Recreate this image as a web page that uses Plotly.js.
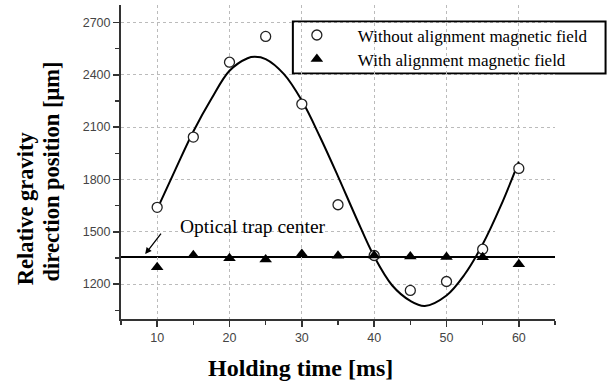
<!DOCTYPE html>
<html>
<head>
<meta charset="utf-8">
<script src="https://cdn.plot.ly/plotly-3.0.1.min.js"></script>
<style>
html,body{margin:0;padding:0;background:#fff;}
#chart{width:611px;height:387px;}
</style>
</head>
<body>
<div id="chart"></div>
<script>
// Holding time [ms]
var holdingTime = [10, 15, 20, 25, 30, 35, 40, 45, 50, 55, 60];
// Without alignment magnetic field (open circles)
var withoutField = [1640, 2043, 2472, 2620, 2232, 1655, 1364, 1164, 1215, 1400, 1863];
// With alignment magnetic field (filled triangles)
var withField = [1296, 1365, 1348, 1341, 1373, 1362, 1364, 1358, 1355, 1354, 1314];
// Fitted curve
var fitTime = [10, 12.5, 15, 17.5, 20, 22.5, 23.5, 25, 27.5, 30, 32.5, 35, 37.5, 40, 42.5, 45, 47, 50, 52.5, 55, 57.5, 60];
var fitValue = [1630, 1855, 2075, 2262, 2423, 2495, 2503, 2490, 2405, 2252, 2045, 1818, 1582, 1358, 1192, 1104, 1075, 1135, 1255, 1428, 1648, 1902];
// Optical trap center level
var trapCenter = 1355;
var xTickLabels = ['10', '20', '30', '40', '50', '60'];
var xTickVals = [10, 20, 30, 40, 50, 60];
var yTickVals = [1200, 1500, 1800, 2100, 2400, 2700];
var yTickLabels = ['1200', '1500', '1800', '2100', '2400', '2700'];
var seriesNames = ['Without alignment magnetic field', 'With alignment magnetic field'];
var yTitleLines = ['Relative gravity', 'direction position [μm]'];
var xTitle = 'Holding time [ms]';
var trapLabel = 'Optical trap center';

var serif = '"Liberation Serif", "Times New Roman", Times, serif';
var sans = '"Liberation Sans", Arial, Helvetica, sans-serif';
var nb = function (n) { return new Array(n + 1).join('\u00A0'); };

var traces = [
  {
    x: fitTime, y: fitValue, mode: 'lines', type: 'scatter',
    line: {color: '#000', width: 2, shape: 'spline', smoothing: 1},
    showlegend: false, hoverinfo: 'skip'
  },
  {
    x: holdingTime, y: withoutField, mode: 'markers', type: 'scatter',
    name: nb(4) + seriesNames[0], legend: 'legend',
    marker: {symbol: 'circle', size: 10, color: '#fff', line: {color: '#222', width: 1.3}}
  },
  {
    x: holdingTime, y: withField, mode: 'markers', type: 'scatter',
    name: nb(4) + seriesNames[1], legend: 'legend2',
    marker: {symbol: 'triangle-up', size: 11, color: '#000', line: {width: 0}}
  }
];

var legendCommon = {
  x: 0.396, xanchor: 'left', yanchor: 'middle',
  bgcolor: 'rgba(0,0,0,0)', borderwidth: 0,
  font: {family: serif, size: 17, color: '#000'},
  itemwidth: 38
};

var layout = {
  width: 611, height: 387,
  margin: {l: 121, r: 56, t: 4.5, b: 68, pad: 0},
  paper_bgcolor: '#fff', plot_bgcolor: '#fff',
  showlegend: true,
  xaxis: {
    range: [5, 65], tickmode: 'array', tickvals: xTickVals, ticktext: xTickLabels,
    ticks: 'outside', ticklen: 6, tickwidth: 1.5, tickcolor: '#333',
    minor: {dtick: 5, tick0: 5, ticks: 'outside', ticklen: 4, tickwidth: 1.5, tickcolor: '#333', showgrid: false},
    showline: true, linecolor: '#333', linewidth: 2, mirror: false,
    showgrid: true, gridcolor: '#bbb', griddash: 'dot', gridwidth: 1,
    zeroline: false,
    tickfont: {family: sans, size: 12.5, color: '#444'}
  },
  yaxis: {
    range: [1000, 2800], tickmode: 'array', tickvals: yTickVals, ticktext: yTickLabels,
    ticks: 'outside', ticklen: 6, tickwidth: 1.5, tickcolor: '#333',
    minor: {dtick: 150, tick0: 1050, ticks: 'outside', ticklen: 4, tickwidth: 1.5, tickcolor: '#333', showgrid: false},
    showline: true, linecolor: '#333', linewidth: 2, mirror: false,
    showgrid: true, gridcolor: '#bbb', griddash: 'dot', gridwidth: 1,
    zeroline: false,
    tickfont: {family: sans, size: 12.5, color: '#444'}
  },
  legend: Object.assign({}, legendCommon, {y: 0.903}),
  legend2: Object.assign({}, legendCommon, {y: 0.8266}),
  shapes: [
    {type: 'line', xref: 'paper', x0: 0, x1: 1, yref: 'y', y0: trapCenter, y1: trapCenter,
     line: {color: '#000', width: 2}, layer: 'between'},
    {type: 'rect', xref: 'paper', yref: 'paper', x0: 0.396, x1: 1.1165, y0: 0.7821, y1: 0.9475,
     fillcolor: '#fff', line: {color: '#000', width: 2}, layer: 'between'}
  ],
  annotations: [
    {text: trapLabel, xref: 'x', yref: 'y', x: 12.9, y: 1532,
     xanchor: 'left', yanchor: 'middle', showarrow: false,
     font: {family: serif, size: 19.5, color: '#000'}},
    {text: '', xref: 'x', yref: 'y', x: 8.34, y: 1372, showarrow: true,
     ax: 17, ay: -22, arrowhead: 2, arrowsize: 1, arrowwidth: 1.3, arrowcolor: '#000', standoff: 0},
    {text: '<b>' + xTitle + '</b>', xref: 'paper', yref: 'paper', x: 0.4144, y: -0.156,
     xanchor: 'center', yanchor: 'middle', showarrow: false,
     font: {family: serif, size: 24, color: '#000'}},
    {text: '<b>' + yTitleLines[0] + '</b>', xref: 'paper', yref: 'paper', x: -0.221, y: 0.3527,
     xanchor: 'center', yanchor: 'middle', showarrow: false, textangle: -90,
     font: {family: serif, size: 22.5, color: '#000'}},
    {text: '<b>' + yTitleLines[1] + '</b>', xref: 'paper', yref: 'paper', x: -0.161, y: 0.4704,
     xanchor: 'center', yanchor: 'middle', showarrow: false, textangle: -90,
     font: {family: serif, size: 22.5, color: '#000'}}
  ]
};

Plotly.newPlot('chart', traces, layout, {displayModeBar: false, staticPlot: true});
</script>
</body>
</html>
